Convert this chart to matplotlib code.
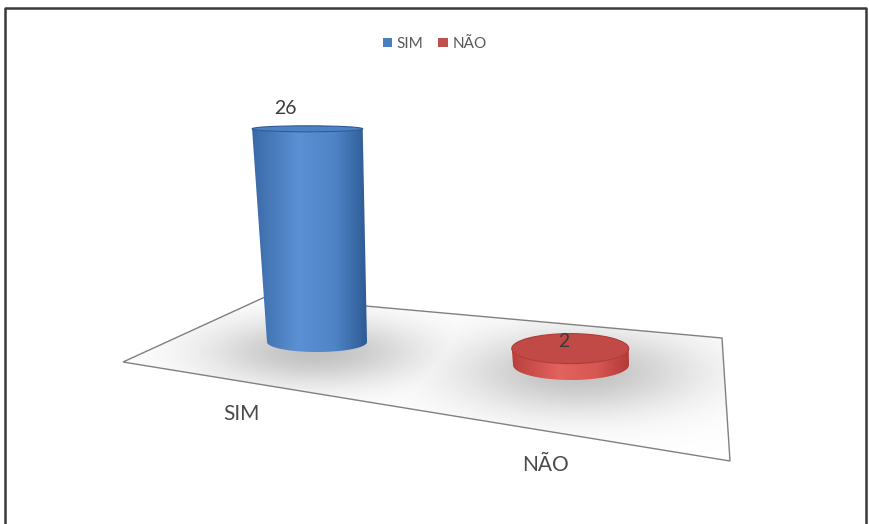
import numpy as np
import matplotlib.pyplot as plt
from matplotlib.patches import Polygon, Ellipse, Rectangle
from matplotlib.colors import LinearSegmentedColormap

plt.rcParams['font.family'] = ['Lato', 'DejaVu Sans']

categories = ["SIM", "NÃO"]
values = [26, 2]
side_colors = [["#3a69a6", "#5b91d4", "#4f84c7", "#2e5b95"],
               ["#bb403d", "#e2625d", "#d75753", "#b13a37"]]
top_colors = ["#4c82c5", "#c24a46"]
legend_colors = ["#4a7ebf", "#c0504d"]

W, H = 869, 524
fig = plt.figure(figsize=(W / 100, H / 100), dpi=100)
ax = fig.add_axes([0, 0, 1, 1])
ax.axis('off')

# floor plane and bar placement (pixel space)
floor = [(123, 362), (265, 297), (722, 338), (730, 461)]
base_x = [317, 571]
base_y = [342, 365]
base_rx = [50, 58]
base_ry = [10, 15]
top_ry = [3, 15]
px_per_unit = 8.2
label_dy = [-20, -7]
label_dx = [-22, -6]
cat_xy = [(241, 414), (546, 465)]
shadows = [(315, 352, 135, 42), (578, 372, 150, 52)]

floor_patch = Polygon(floor, closed=True, facecolor='white', edgecolor='none', zorder=1)
ax.add_patch(floor_patch)

# soft shadows on the floor
yy, xx = np.mgrid[0:H, 0:W] + 0.5
alpha = np.zeros((H, W))
for sx, sy, wx, wy in shadows:
    g = np.exp(-(((xx - sx) / wx) ** 2 + ((yy - sy) / wy) ** 2) * 1.6)
    alpha = np.maximum(alpha, g)
shade = np.zeros((H, W, 4))
shade[..., :3] = 0.6
shade[..., 3] = alpha * 0.6
im = ax.imshow(shade, extent=(0, W, H, 0), zorder=2, interpolation='bilinear')
im.set_clip_path(floor_patch)
ax.add_patch(Polygon(floor, closed=True, facecolor='none', edgecolor='#808080', lw=1.0, zorder=3))


def cylinder(i):
    h = values[i] * px_per_unit
    cx, yb, rx, ryb, ryt = base_x[i], base_y[i], base_rx[i], base_ry[i], top_ry[i]
    xt = cx - 0.045 * h
    yt = yb - h
    rxt = rx * (1 + 0.0005 * h)
    th = np.linspace(0, np.pi, 80)
    lower = [(cx + rx * np.cos(t), yb + ryb * np.sin(t)) for t in th]
    top_low = [(xt + rxt * np.cos(t), yt + ryt * np.sin(t)) for t in th[::-1]]
    body = Polygon(lower + top_low, closed=True, facecolor='none', edgecolor='none', zorder=4)
    ax.add_patch(body)
    cmap = LinearSegmentedColormap.from_list('side', list(zip([0, 0.4, 0.72, 1], side_colors[i])))
    grad = np.linspace(0, 1, 256)[None, :]
    x0 = min(cx - rx, xt - rxt)
    x1 = max(cx + rx, xt + rxt)
    g = ax.imshow(grad, cmap=cmap, extent=(x0, x1, yb + ryb, yt - ryt), aspect='auto', zorder=4)
    g.set_clip_path(body)
    ax.add_patch(Ellipse((xt, yt), 2 * rxt, 2 * ryt, facecolor=top_colors[i],
                         edgecolor=side_colors[i][3], lw=0.8, zorder=5))
    ax.text(xt + label_dx[i], yt + label_dy[i], str(values[i]), ha='center', va='center',
            fontsize=14, color='#3a3a3a', zorder=6)


for i in range(len(values)):
    cylinder(i)

for (x, y), c in zip(cat_xy, categories):
    ax.text(x, y, c, ha='center', va='center', fontsize=15, color='#4a4a4a')

handles = [Rectangle((0, 0), 1, 1, facecolor=c) for c in legend_colors]
ax.legend(handles, categories, loc='center', bbox_to_anchor=(0.5, 1 - 44 / H), ncol=2,
          frameon=False, fontsize=11, labelcolor='#595959', handlelength=0.6,
          handleheight=0.6, handletextpad=0.3, columnspacing=1.0)

# outer frame
ax.plot([4.5, 4.5, 866, 866], [H, 7.5, 7.5, H], color='#3a3a3a', lw=1.8, zorder=7)

ax.set_xlim(0, W)
ax.set_ylim(H, 0)
fig.savefig('out.png', dpi=100)
